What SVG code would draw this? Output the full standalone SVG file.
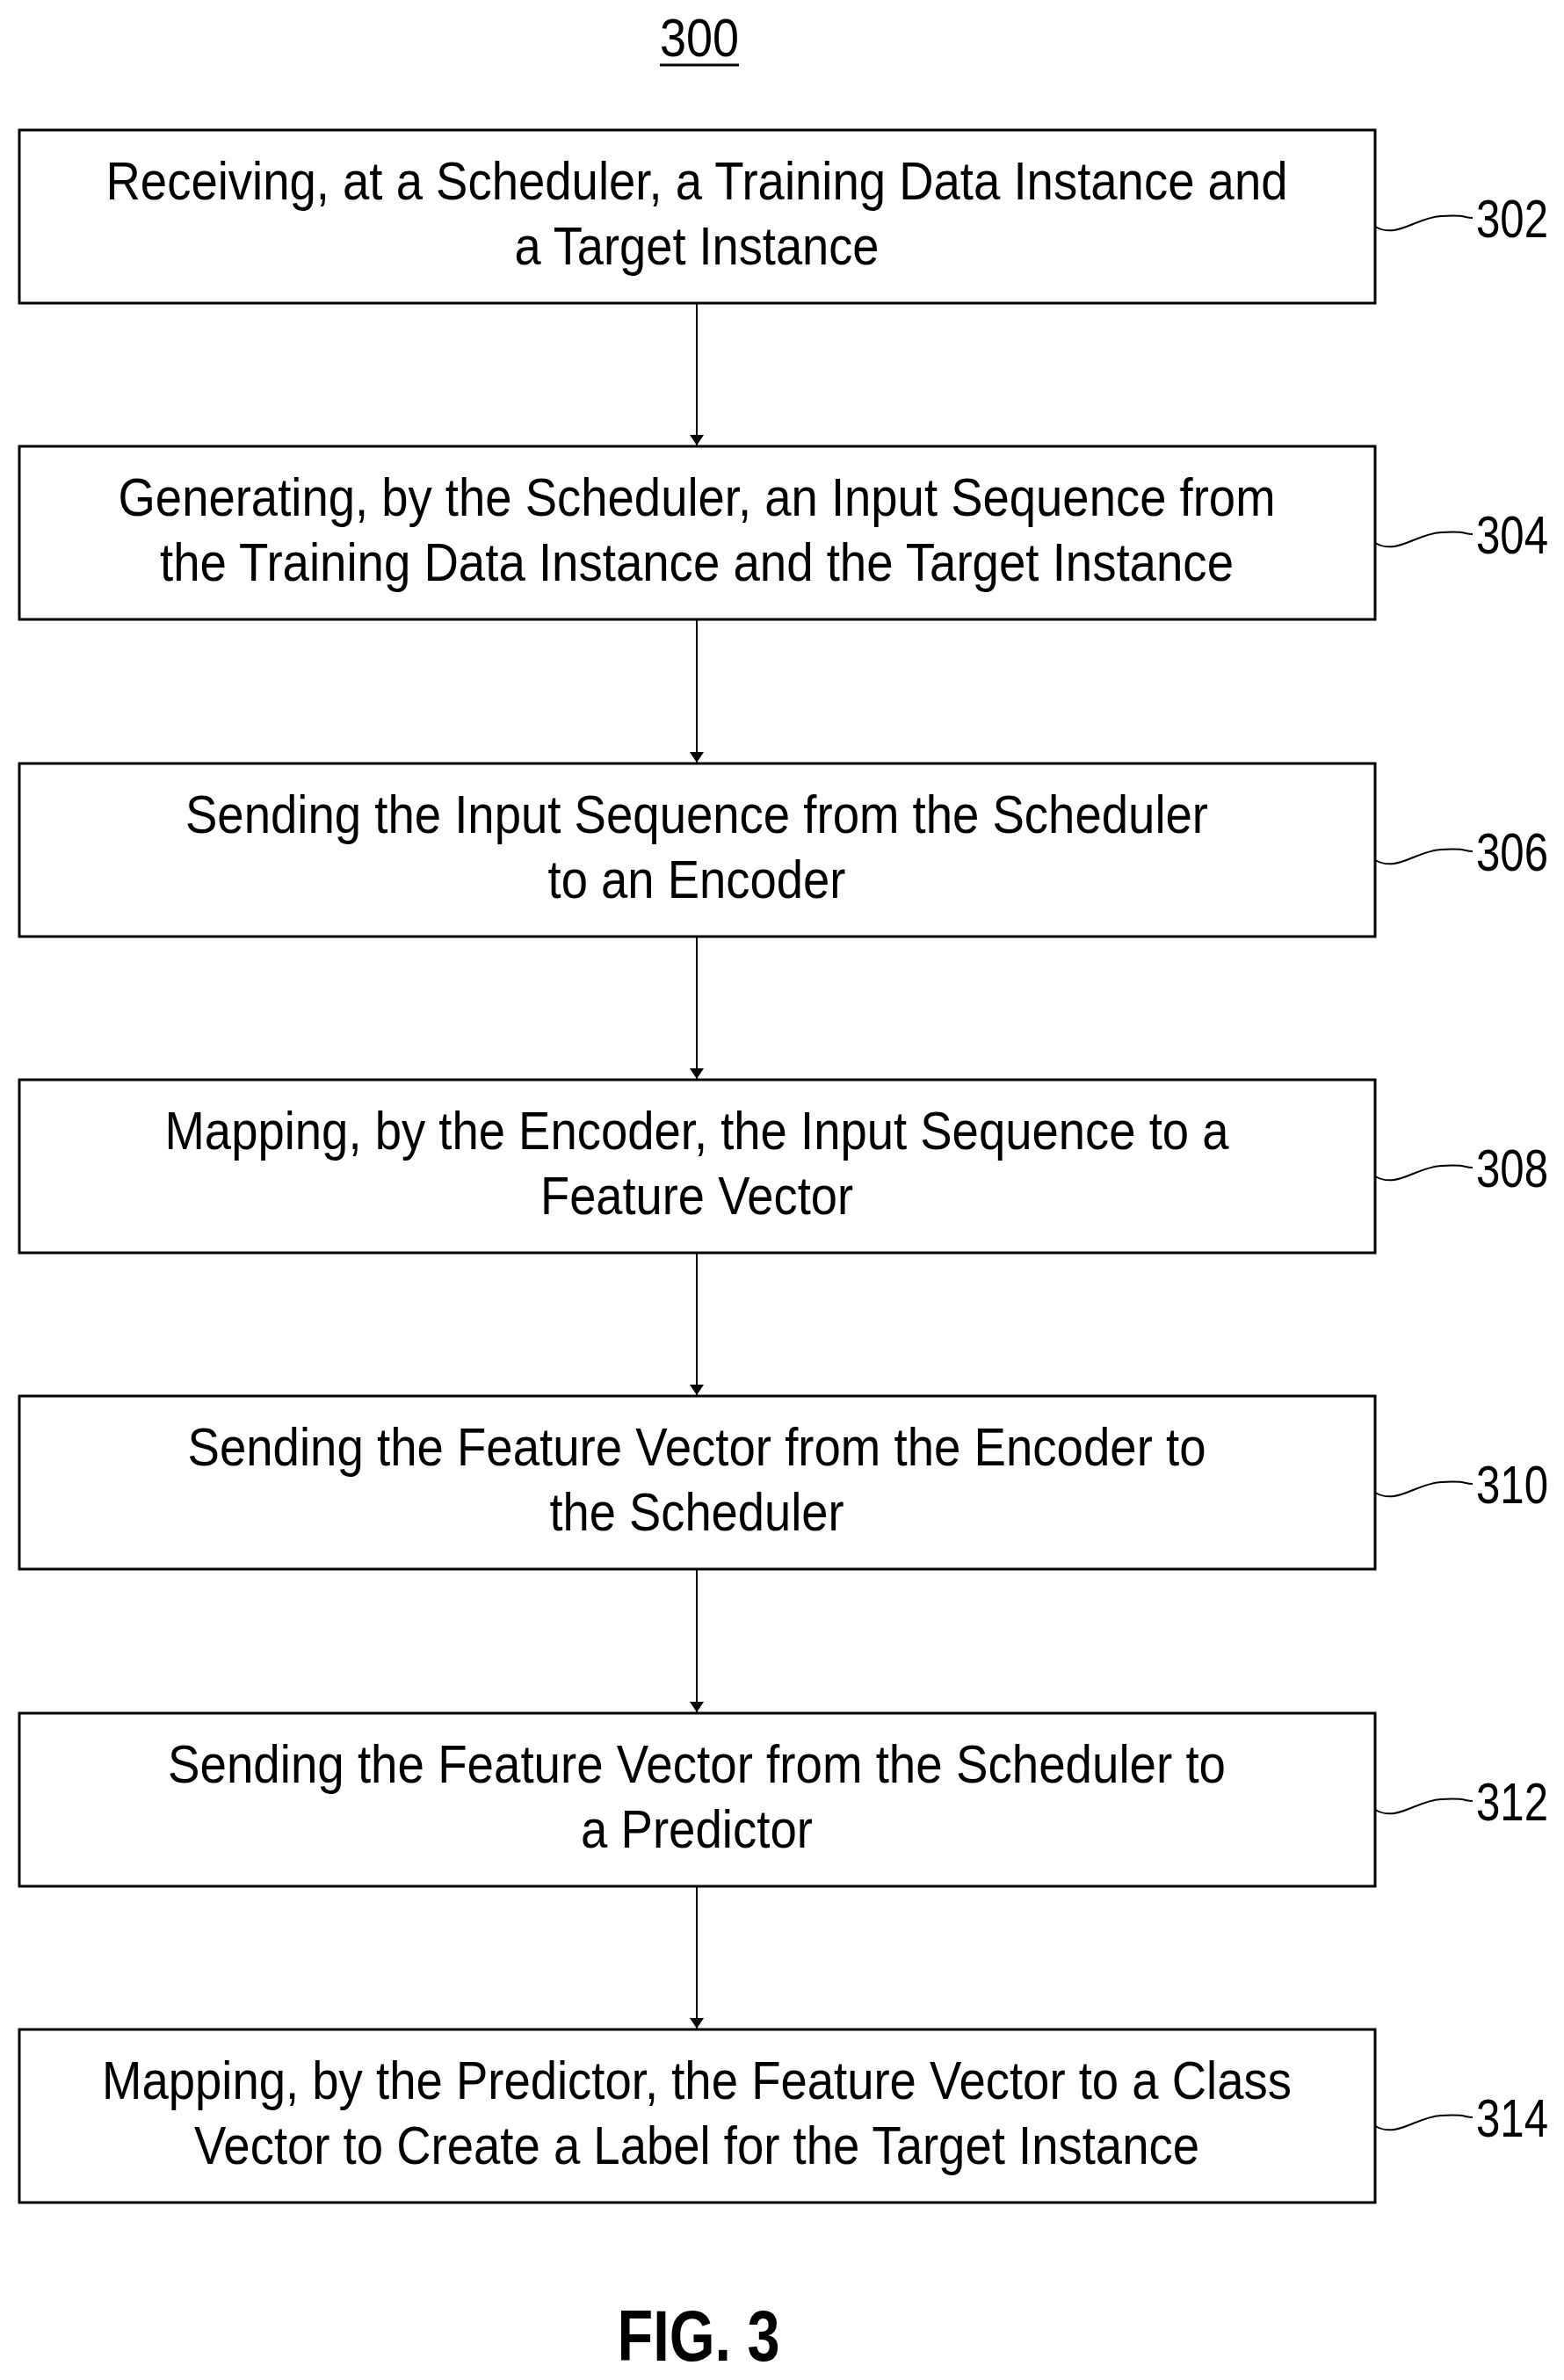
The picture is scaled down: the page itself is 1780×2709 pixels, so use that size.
<svg xmlns="http://www.w3.org/2000/svg" width="1780" height="2709" viewBox="0 0 1780 2709">
<style>
.box{fill:#fff;stroke:#000;stroke-width:3}
.t{font-family:"Liberation Sans",Arial,sans-serif;font-size:62px;text-anchor:middle;fill:#000}
.n{font-family:"Liberation Sans",Arial,sans-serif;font-size:62px;fill:#000}
.sq{fill:none;stroke:#000;stroke-width:2}
.c{stroke:#000;stroke-width:2;fill:none;marker-end:url(#ah)}
</style>
<defs><marker id="ah" markerWidth="12" markerHeight="22" refX="12" refY="11" orient="auto" markerUnits="userSpaceOnUse"><path d="M0,3 L12,11 L0,19 Z" fill="#000"/></marker></defs>
<rect width="1780" height="2709" fill="#fff"/>
<g id="title"><text class="n" x="796" y="64" text-anchor="middle" textLength="90" lengthAdjust="spacingAndGlyphs" font-size="54">300</text><line x1="751" y1="74" x2="841" y2="74" stroke="#000" stroke-width="3"/></g>
<g id="connectors">
<line class="c" x1="793" y1="345" x2="793" y2="507"/>
<line class="c" x1="793" y1="705" x2="793" y2="868"/>
<line class="c" x1="793" y1="1066" x2="793" y2="1228"/>
<line class="c" x1="793" y1="1426" x2="793" y2="1588"/>
<line class="c" x1="793" y1="1786" x2="793" y2="1949"/>
<line class="c" x1="793" y1="2147" x2="793" y2="2309"/>
</g>
<g id="n302"><rect class="box" x="22" y="148" width="1543" height="197"/>
<text class="t" x="793" y="227" textLength="1345" lengthAdjust="spacingAndGlyphs">Receiving, at a Scheduler, a Training Data Instance and</text>
<text class="t" x="793" y="301" textLength="415" lengthAdjust="spacingAndGlyphs">a Target Instance</text>
<path class="sq" d="M1565,258 C1590,272 1610,248 1640,246 S1665,248 1676,248"/><text class="n" x="1680" y="270" textLength="82" lengthAdjust="spacingAndGlyphs">302</text></g>
<g id="n304"><rect class="box" x="22" y="508" width="1543" height="197"/>
<text class="t" x="793" y="587" textLength="1317" lengthAdjust="spacingAndGlyphs">Generating, by the Scheduler, an Input Sequence from</text>
<text class="t" x="793" y="661" textLength="1222" lengthAdjust="spacingAndGlyphs">the Training Data Instance and the Target Instance</text>
<path class="sq" d="M1565,618 C1590,632 1610,608 1640,606 S1665,608 1676,608"/><text class="n" x="1680" y="630" textLength="82" lengthAdjust="spacingAndGlyphs">304</text></g>
<g id="n306"><rect class="box" x="22" y="869" width="1543" height="197"/>
<text class="t" x="793" y="948" textLength="1164" lengthAdjust="spacingAndGlyphs">Sending the Input Sequence from the Scheduler</text>
<text class="t" x="793" y="1022" textLength="339" lengthAdjust="spacingAndGlyphs">to an Encoder</text>
<path class="sq" d="M1565,979 C1590,993 1610,969 1640,967 S1665,969 1676,969"/><text class="n" x="1680" y="991" textLength="82" lengthAdjust="spacingAndGlyphs">306</text></g>
<g id="n308"><rect class="box" x="22" y="1229" width="1543" height="197"/>
<text class="t" x="793" y="1308" textLength="1211" lengthAdjust="spacingAndGlyphs">Mapping, by the Encoder, the Input Sequence to a</text>
<text class="t" x="793" y="1382" textLength="356" lengthAdjust="spacingAndGlyphs">Feature Vector</text>
<path class="sq" d="M1565,1339 C1590,1353 1610,1329 1640,1327 S1665,1329 1676,1329"/><text class="n" x="1680" y="1351" textLength="82" lengthAdjust="spacingAndGlyphs">308</text></g>
<g id="n310"><rect class="box" x="22" y="1589" width="1543" height="197"/>
<text class="t" x="793" y="1668" textLength="1159" lengthAdjust="spacingAndGlyphs">Sending the Feature Vector from the Encoder to</text>
<text class="t" x="793" y="1742" textLength="335" lengthAdjust="spacingAndGlyphs">the Scheduler</text>
<path class="sq" d="M1565,1699 C1590,1713 1610,1689 1640,1687 S1665,1689 1676,1689"/><text class="n" x="1680" y="1711" textLength="82" lengthAdjust="spacingAndGlyphs">310</text></g>
<g id="n312"><rect class="box" x="22" y="1950" width="1543" height="197"/>
<text class="t" x="793" y="2029" textLength="1204" lengthAdjust="spacingAndGlyphs">Sending the Feature Vector from the Scheduler to</text>
<text class="t" x="793" y="2103" textLength="264" lengthAdjust="spacingAndGlyphs">a Predictor</text>
<path class="sq" d="M1565,2060 C1590,2074 1610,2050 1640,2048 S1665,2050 1676,2050"/><text class="n" x="1680" y="2072" textLength="82" lengthAdjust="spacingAndGlyphs">312</text></g>
<g id="n314"><rect class="box" x="22" y="2310" width="1543" height="197"/>
<text class="t" x="793" y="2389" textLength="1354" lengthAdjust="spacingAndGlyphs">Mapping, by the Predictor, the Feature Vector to a Class</text>
<text class="t" x="793" y="2463" textLength="1144" lengthAdjust="spacingAndGlyphs">Vector to Create a Label for the Target Instance</text>
<path class="sq" d="M1565,2420 C1590,2434 1610,2410 1640,2408 S1665,2410 1676,2410"/><text class="n" x="1680" y="2432" textLength="82" lengthAdjust="spacingAndGlyphs">314</text></g>
<g id="fig"><text x="795" y="2687" font-family="Liberation Sans,Arial,sans-serif" font-weight="bold" font-size="82" text-anchor="middle" textLength="185" lengthAdjust="spacingAndGlyphs">FIG. 3</text></g>
</svg>
